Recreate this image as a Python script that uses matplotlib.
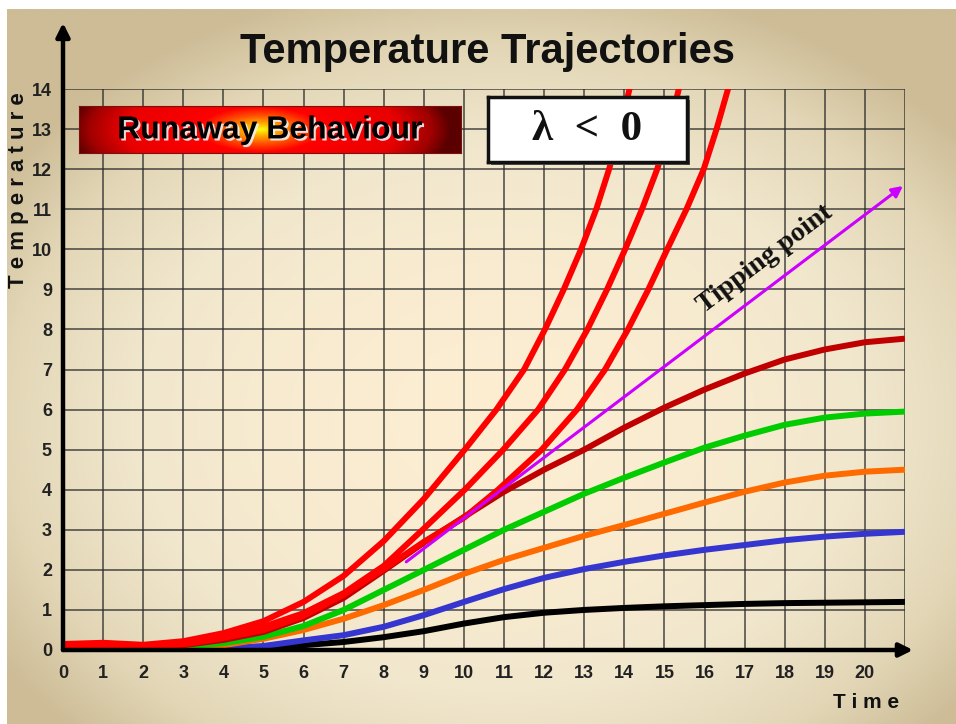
import numpy as np
import matplotlib
matplotlib.use("Agg")
import matplotlib.pyplot as plt
from matplotlib.colors import LinearSegmentedColormap
from matplotlib.patches import Rectangle
import matplotlib.patheffects as pe

# time axis for the slow trajectories
t = [0, 1, 2, 3, 4, 5, 6, 7, 8, 9, 10, 11, 12, 13, 14, 15, 16, 17, 18, 19, 20, 21]

black_y = [0, 0, 0, 0.01, 0.03, 0.07, 0.12, 0.2, 0.32, 0.47, 0.66, 0.82, 0.93, 1.0,
           1.05, 1.09, 1.12, 1.15, 1.17, 1.18, 1.19, 1.2]
blue_y = [-0.03, -0.02, 0, 0.01, 0.04, 0.1, 0.24, 0.37, 0.58, 0.87, 1.2, 1.52, 1.8, 2.02,
          2.2, 2.36, 2.5, 2.62, 2.74, 2.83, 2.9, 2.95]
orange_y = [0, 0, 0.01, 0.05, 0.12, 0.28, 0.5, 0.78, 1.12, 1.5, 1.9, 2.25, 2.55, 2.85,
            3.12, 3.4, 3.68, 3.95, 4.18, 4.35, 4.45, 4.5]
green_y = [0.02, 0.02, 0.03, 0.08, 0.17, 0.33, 0.6, 1.0, 1.5, 2.0, 2.5, 3.0, 3.45, 3.9,
           4.3, 4.68, 5.05, 5.35, 5.62, 5.8, 5.9, 5.95]
darkred_y = [0.05, 0.07, 0.05, 0.12, 0.25, 0.45, 0.8, 1.3, 1.98, 2.68, 3.32, 3.95, 4.5, 5.0,
             5.55, 6.05, 6.5, 6.9, 7.25, 7.5, 7.68, 7.77]

# runaway trajectories (leave the chart at the top)
redA_x = [0, 1, 2, 3, 4, 5, 6, 7, 8, 9, 10.02, 10.81, 11.5, 12.02, 12.49, 12.92, 13.3,
          13.62, 13.9, 14.14]
redA_y = [0.15, 0.18, 0.13, 0.22, 0.42, 0.72, 1.2, 1.85, 2.72, 3.77, 5, 6, 7, 8, 9, 10, 11,
          12, 13, 14.05]
redB_x = [0, 1, 2, 3, 4, 5, 6, 7, 8, 9, 10.02, 10.98, 11.85, 12.52, 13.08, 13.57, 14.02,
          14.44, 14.82, 15.12, 15.37]
redB_y = [0.1, 0.13, 0.1, 0.17, 0.35, 0.58, 0.92, 1.42, 2.1, 3.03, 4, 5, 6, 7, 8, 9, 10, 11,
          12, 13, 14.05]
redC_x = [0, 1, 2, 3, 4, 5, 6, 7, 8, 9, 10, 10.85, 11.94, 12.82, 13.52, 14.09, 14.6, 15.07,
          15.55, 15.98, 16.3, 16.6]
redC_y = [0.08, 0.1, 0.07, 0.14, 0.3, 0.5, 0.85, 1.38, 2.02, 2.7, 3.3, 4.0, 5, 6, 7, 8, 9,
          10, 11, 12, 13, 14.05]

# tipping point arrow (start, end)
tip_x = [8.56, 20.95]
tip_y = [2.2, 11.58]

x_ticks = list(range(0, 21))
y_ticks = list(range(0, 15))

W, H = 956, 724
fig = plt.figure(figsize=(W / 100, H / 100), dpi=100)

# beige radial background
bg = fig.add_axes([7 / W, 0, (W - 7) / W, (H - 9) / H], zorder=-10)
gx, gy = np.meshgrid(np.linspace(7, W, 300), np.linspace(9, H, 240))
r = np.sqrt(((gx - 500) / 478) ** 2 + ((gy - 420) / 360) ** 2)
tt = np.clip(r / 1.25, 0, 1) ** 1.6
bg_cmap = LinearSegmentedColormap.from_list(
    "bg", [(0, "#fdeed2"), (0.45, "#f1e7cd"), (0.75, "#e2d6b6"), (1, "#cdbc96")])
bg.imshow(tt, cmap=bg_cmap, aspect="auto", vmin=0, vmax=1)
bg.axis("off")

ax = fig.add_axes([63 / W, 74 / H, 842 / W, 561 / H])
ax.set_xlim(0, 21)
ax.set_ylim(0, 14)
ax.patch.set_alpha(0)
for s in ax.spines.values():
    s.set_visible(False)

# grid
ax.vlines(np.arange(0, 22), 0, 14, color="#2a2a2a", lw=1.1, alpha=0.85, zorder=1)
ax.hlines(np.arange(0, 15), 0, 21, color="#2a2a2a", lw=1.1, alpha=0.85, zorder=1)

ax.set_xticks(x_ticks)
ax.set_xticklabels([str(v) for v in x_ticks], fontfamily="Liberation Sans",
                   fontweight="bold", fontsize=13, color="#222222")
ax.set_yticks(y_ticks)
ax.set_yticklabels([str(v) for v in y_ticks], fontfamily="Liberation Sans",
                   fontweight="bold", fontsize=13, color="#222222")
ax.tick_params(axis="x", length=0, pad=11)
ax.tick_params(axis="y", length=0, pad=8)

lw = 4.3
style = dict(lw=lw, solid_joinstyle="round", solid_capstyle="butt")
ax.plot(t, black_y, color="black", zorder=3, **style)
ax.plot(t, blue_y, color="#3535d0", zorder=3, **style)
ax.plot(t, orange_y, color="#ff6a00", zorder=3, **style)
ax.plot(t, green_y, color="#00cc00", zorder=3, **style)
ax.plot(t, darkred_y, color="#c00000", zorder=3, **style)
ax.plot(redC_x, redC_y, color="#ff0000", zorder=4, **style)
ax.plot(redB_x, redB_y, color="#ff0000", zorder=4, **style)
ax.plot(redA_x, redA_y, color="#ff0000", zorder=4, **style)

ax.annotate("", xy=(tip_x[1], tip_y[1]), xytext=(tip_x[0], tip_y[0]),
            arrowprops=dict(arrowstyle="-|>", color="#cc00ff", lw=2.2,
                            mutation_scale=16, shrinkA=0, shrinkB=0), zorder=5)
ang = np.degrees(np.arctan2(tip_y[1] - tip_y[0], tip_x[1] - tip_x[0]))
ax.text(17.5, 9.75, "Tipping point", rotation=ang, rotation_mode="anchor",
        ha="center", va="center", fontfamily="Liberation Serif", fontweight="bold",
        fontsize=20, color="#111111", zorder=6)

# axes with arrows
ax.annotate("", xy=(21.2, 0), xytext=(0, 0), annotation_clip=False,
            arrowprops=dict(arrowstyle="-|>", color="black", lw=3.2,
                            mutation_scale=20, shrinkA=0, shrinkB=0), zorder=7)
ax.annotate("", xy=(0, 15.65), xytext=(0, 0), annotation_clip=False,
            arrowprops=dict(arrowstyle="-|>", color="black", lw=3.2,
                            mutation_scale=20, shrinkA=0, shrinkB=0), zorder=7)

# title and axis labels
fig.text(488 / W, 1 - 63 / H, "Temperature Trajectories", ha="center", va="baseline",
         fontsize=30, fontweight="bold", fontfamily="Liberation Sans", color="#111111")
fig.text(19 / W, 1 - 190 / H, "T e m p e r a t u r e", rotation=90, ha="center",
         va="center", fontsize=16, fontweight="bold", fontfamily="Liberation Sans",
         color="#111111")
fig.text(866 / W, 1 - 703 / H, "T i m e", ha="center", va="center", fontsize=15,
         fontweight="bold", fontfamily="Liberation Sans", color="#111111")

# "Runaway Behaviour" banner
rb = fig.add_axes([79 / W, (H - 153) / H, 382 / W, 47 / H], zorder=8)
ux, vy = np.meshgrid(np.linspace(-1, 1, 400), np.linspace(-1, 1, 60))
rr = np.sqrt((ux + 0.05) ** 2 + (0.33 * vy) ** 2)
fire = LinearSegmentedColormap.from_list(
    "fire", [(0, "#ffff10"), (0.08, "#ffb000"), (0.2, "#ff5000"), (0.32, "#ff0000"),
             (0.72, "#e80000"), (0.9, "#a00000"), (1, "#5a0000")])
rb.imshow(rr, cmap=fire, aspect="auto", vmin=0, vmax=1.0, extent=(0, 1, 0, 1))
rb.set_xticks([])
rb.set_yticks([])
for s in rb.spines.values():
    s.set_color("#7a1010")
    s.set_linewidth(0.8)
rb.text(0.5, 0.48, "Runaway Behaviour", transform=rb.transAxes, ha="center", va="center",
        fontsize=23, fontweight="bold", fontfamily="Liberation Sans", color="black",
        path_effects=[pe.withSimplePatchShadow(offset=(1.5, -1.5),
                                               shadow_rgbFace="#f0f0f0", alpha=0.9)])

# lambda box with a small drop shadow
fig.patches.append(Rectangle(((488 + 3) / W, (H - 162 - 3) / H), 199 / W, 65 / H,
                             transform=fig.transFigure, facecolor="#555555",
                             edgecolor="none", zorder=7))
lb = fig.add_axes([488 / W, (H - 162) / H, 199 / W, 65 / H], zorder=8)
lb.set_facecolor("white")
lb.set_xticks([])
lb.set_yticks([])
for s in lb.spines.values():
    s.set_color("#111111")
    s.set_linewidth(2.5)
lb.text(0.5, 0.5, "λ  <  0", transform=lb.transAxes, ha="center", va="center",
        fontsize=31, fontweight="bold", fontfamily="Liberation Serif", color="#111111")

fig.savefig("out.png", dpi=100)
